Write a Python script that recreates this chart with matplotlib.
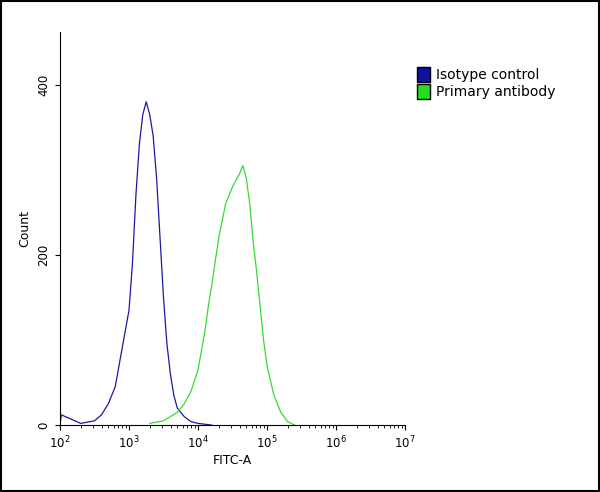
import matplotlib
matplotlib.use("Agg")
import matplotlib.pyplot as plt
import numpy as np
from matplotlib.patches import Patch, Rectangle

blue_logx = [2.0,2.02,2.3,2.5,2.6,2.7,2.8,2.9,3.0,3.05,3.1,3.15,3.2,3.25,3.3,3.35,3.4,3.45,3.5,3.55,3.6,3.65,3.7,3.8,3.9,4.0,4.2]
blue_cnt  = [0,12,2,5,12,25,45,90,135,190,270,330,365,380,365,340,290,220,150,95,60,35,20,10,4,2,0]
green_logx = [3.3,3.5,3.7,3.8,3.9,4.0,4.1,4.15,4.2,4.3,4.4,4.5,4.6,4.65,4.7,4.75,4.8,4.85,4.9,4.95,5.0,5.1,5.2,5.3,5.4]
green_cnt  = [2,5,15,25,40,65,110,140,165,220,260,280,295,305,290,260,215,180,140,100,70,35,15,4,0]

fig = plt.figure(figsize=(6,4.92), dpi=100)
fig.patches.append(Rectangle((0.002,0.002),0.996,0.996,transform=fig.transFigure,fill=False,lw=1.5,ec='black'))
ax = fig.add_axes([0.1,0.136,0.575,0.799])
ax.plot(10**np.array(blue_logx), blue_cnt, color='#1a1aa0', lw=0.9)
ax.plot(10**np.array(green_logx), green_cnt, color='#33dd33', lw=0.9)
ax.set_xscale('log')
ax.set_xlim(1e2,1e7)
ax.set_ylim(0,462)
ax.set_yticks([0,200,400])
ax.set_yticklabels(['0','200','400'], rotation=90, va='center')
ax.spines['top'].set_visible(False)
ax.spines['right'].set_visible(False)
ax.tick_params(labelsize=8.5)
ax.set_xlabel('FITC-A', fontsize=9, labelpad=2)
ax.set_ylabel('Count', fontsize=9)
handles=[Patch(fc='#1010a0',ec='black',label='Isotype control'),
         Patch(fc='#22dd22',ec='black',label='Primary antibody')]
fig.legend(handles=handles, loc='upper left', bbox_to_anchor=(0.685,0.875), frameon=False,
           fontsize=10, handlelength=1.0, handleheight=1.3, handletextpad=0.4, labelspacing=0.1, borderaxespad=0)
fig.savefig('out.png')
